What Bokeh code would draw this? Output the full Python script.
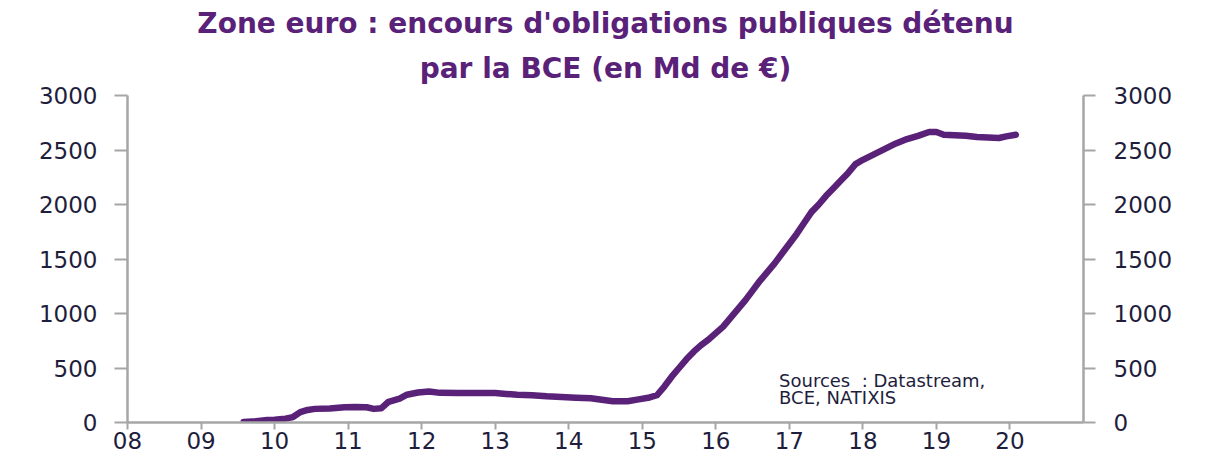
from bokeh.plotting import figure
from bokeh.models import LinearAxis, FixedTicker, Label, Title, Range1d
from bokeh.embed import file_html
from bokeh.resources import INLINE

# Data: year fraction, holdings in bn EUR
years = [2009.58, 2009.75, 2009.9, 2010.0, 2010.15, 2010.25, 2010.35, 2010.45, 2010.55,
         2010.75, 2010.95, 2011.1, 2011.25, 2011.35, 2011.45, 2011.55, 2011.7, 2011.8,
         2011.95, 2012.1, 2012.25, 2012.5, 2012.75, 2013.0, 2013.15, 2013.3, 2013.5,
         2013.7, 2013.9, 2014.1, 2014.3, 2014.45, 2014.6, 2014.8, 2014.95, 2015.1,
         2015.2, 2015.3, 2015.4, 2015.5, 2015.6, 2015.7, 2015.8, 2015.9, 2016.0,
         2016.1, 2016.2, 2016.3, 2016.4, 2016.5, 2016.6, 2016.7, 2016.8, 2016.9,
         2017.0, 2017.1, 2017.2, 2017.3, 2017.4, 2017.5, 2017.6, 2017.7, 2017.8,
         2017.9, 2018.0, 2018.15, 2018.3, 2018.45, 2018.6, 2018.75, 2018.9, 2019.0,
         2019.1, 2019.25, 2019.4, 2019.55, 2019.7, 2019.85, 2019.95, 2020.08]
holdings = [5, 12, 22, 25, 35, 50, 95, 115, 125,
            128, 140, 142, 140, 125, 130, 190, 220, 255,
            275, 285, 272, 270, 270, 270, 262, 255, 250,
            240, 235, 228, 222, 208, 195, 195, 212, 230,
            250, 330, 420, 500, 580, 650, 710, 760, 820,
            880, 960, 1040, 1120, 1210, 1300, 1380, 1460, 1550,
            1640, 1730, 1830, 1930, 2000, 2080, 2150, 2220, 2290,
            2370, 2410, 2460, 2510, 2560, 2600, 2630, 2665, 2665,
            2640, 2635, 2630, 2620, 2615, 2610, 2625, 2640]

x_ticks = list(range(2008, 2021))
x_tick_labels = ["08", "09", "10", "11", "12", "13", "14", "15", "16", "17", "18", "19", "20"]
y_ticks = [0, 500, 1000, 1500, 2000, 2500, 3000]

title_lines = ["Zone euro : encours d'obligations publiques détenu", "par la BCE (en Md de €)"]
source_lines = ["Sources\u00a0\u00a0: Datastream,", "BCE, NATIXIS"]

purple = "#5a2179"
axis_grey = "#a6a6a6"
label_color = "#1e1e3c"

p = figure(width=1197, height=452, output_backend="svg", toolbar_location=None,
           x_range=Range1d(2008, 2021), y_range=Range1d(0, 3000),
           min_border_left=127, min_border_right=114, min_border_top=95, min_border_bottom=30)
p.outline_line_color = None
p.xgrid.visible = False
p.ygrid.visible = False
p.background_fill_color = "white"
p.border_fill_color = "white"

p.line(years, holdings, line_color=purple, line_width=6.5, line_join="round", line_cap="round")

def style_axis(ax):
    ax.axis_line_color = axis_grey
    ax.axis_line_width = 2.5
    ax.major_tick_line_color = axis_grey
    ax.major_tick_line_width = 2
    ax.minor_tick_line_color = None
    ax.major_tick_in = 0
    ax.major_label_text_font = "DejaVu Sans"
    ax.major_label_text_font_size = "23px"
    ax.major_label_text_color = label_color

xa = p.xaxis[0]
style_axis(xa)
xa.ticker = FixedTicker(ticks=x_ticks)
xa.major_label_overrides = {t: l for t, l in zip(x_ticks, x_tick_labels)}
xa.major_tick_out = 7
xa.major_label_standoff = 2

ya = p.yaxis[0]
style_axis(ya)
ya.ticker = FixedTicker(ticks=y_ticks)
ya.major_tick_out = 13
ya.major_label_standoff = 17

ra = LinearAxis(ticker=FixedTicker(ticks=y_ticks))
style_axis(ra)
ra.major_tick_out = 12
ra.major_label_standoff = 18
p.add_layout(ra, "right")

p.add_layout(Title(text=title_lines[1], align="center", text_font="DejaVu Sans",
                   text_font_style="bold", text_font_size="28px", text_line_height=0.8,
                   text_color=purple, standoff=21), "above")
p.add_layout(Title(text=title_lines[0], align="center", text_font="DejaVu Sans",
                   text_font_style="bold", text_font_size="28px", text_line_height=0.8,
                   text_color=purple, standoff=0), "above")

p.add_layout(Label(x=2016.86, y=290, text=source_lines[0], text_font="DejaVu Sans",
                   text_font_size="18px", text_color=label_color, text_baseline="bottom"))
p.add_layout(Label(x=2016.86, y=130, text=source_lines[1], text_font="DejaVu Sans",
                   text_font_size="18px", text_color=label_color, text_baseline="bottom"))

open("out.html", "w").write(file_html(p, INLINE))
